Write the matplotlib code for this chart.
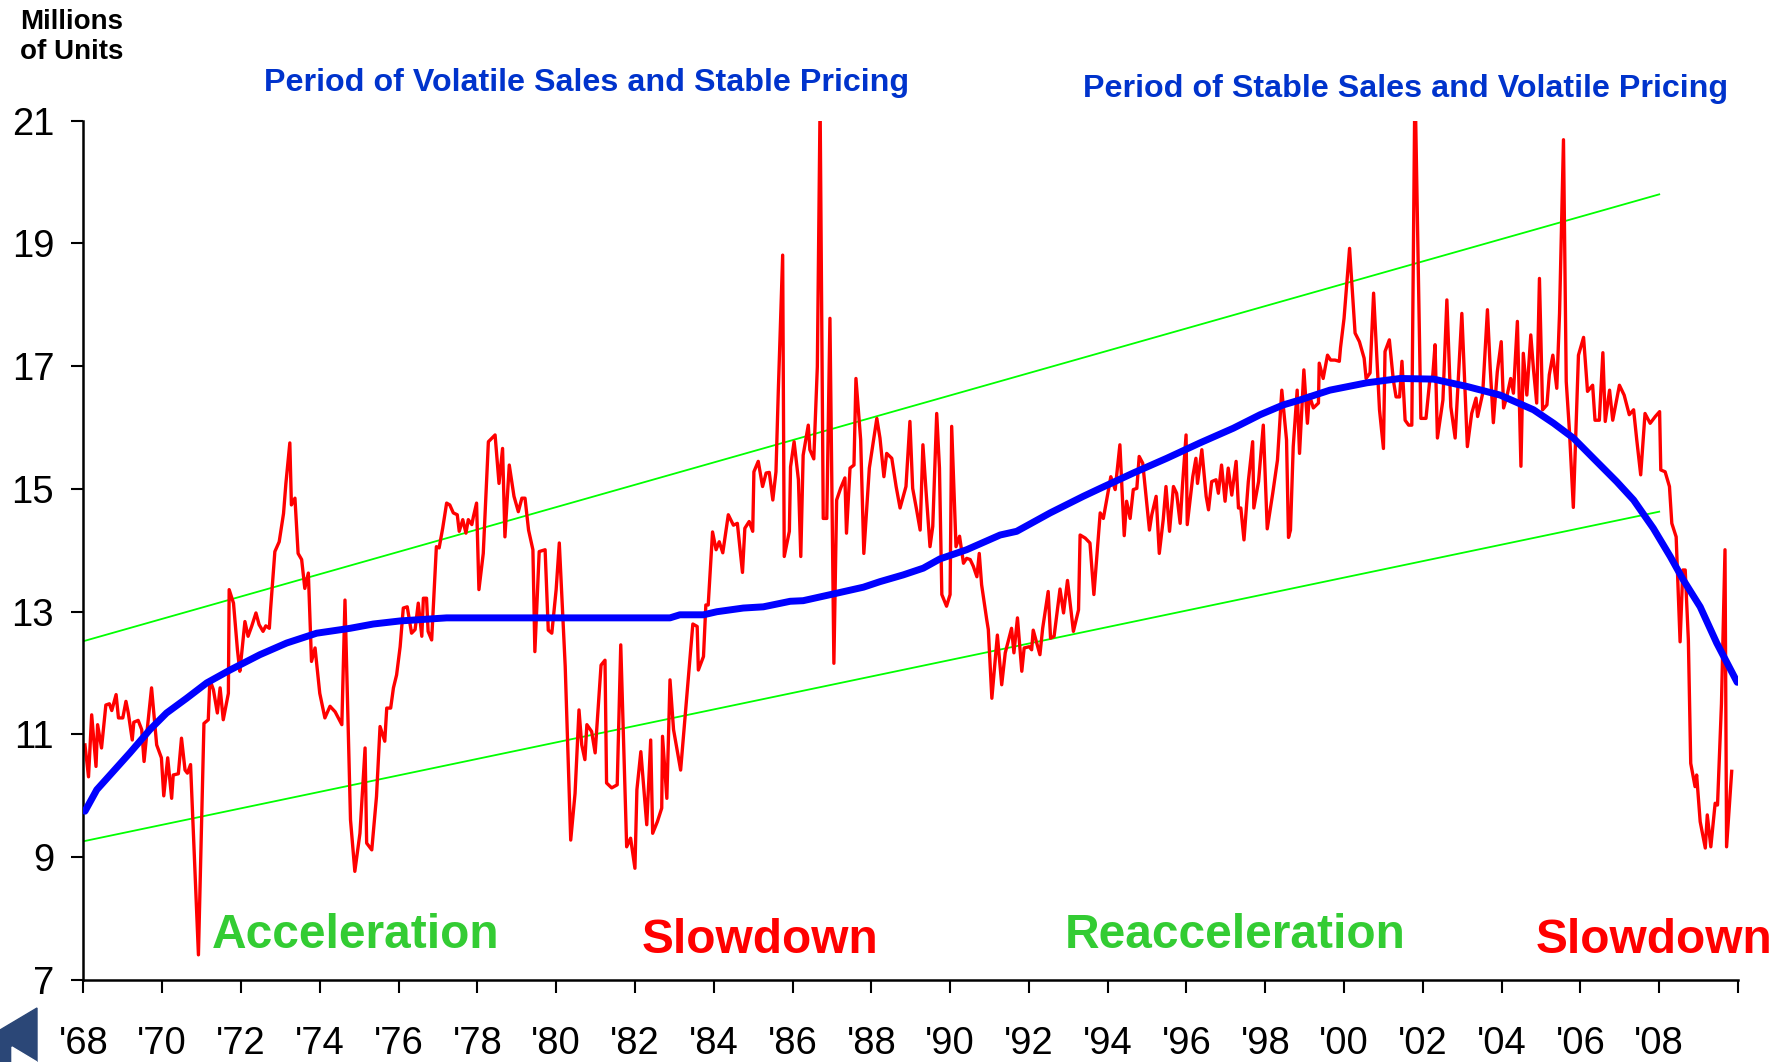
import numpy as np
import matplotlib
matplotlib.use("Agg")
import matplotlib.pyplot as plt
from matplotlib.patches import Polygon

plt.rcParams['font.family'] = ['Liberation Sans', 'DejaVu Sans']

# ventas mensuales (millones de unidades, tasa anualizada)
sales_year = [
    1968.04, 1968.13, 1968.21, 1968.32, 1968.36, 1968.46, 1968.57, 1968.66, 1968.72, 1968.83,
    1968.89, 1969.00, 1969.08, 1969.14, 1969.24, 1969.28, 1969.39, 1969.48, 1969.54, 1969.61,
    1969.73, 1969.86, 1969.98, 1970.04, 1970.14, 1970.24, 1970.28, 1970.41, 1970.49, 1970.58,
    1970.64, 1970.72, 1970.92, 1971.06, 1971.17, 1971.21, 1971.30, 1971.40, 1971.47, 1971.55,
    1971.68, 1971.70, 1971.81, 1971.91, 1971.97, 1972.01, 1972.10, 1972.18, 1972.27, 1972.38,
    1972.46, 1972.56, 1972.63, 1972.72, 1972.75, 1972.86, 1972.97, 1973.08, 1973.14, 1973.24,
    1973.28, 1973.37, 1973.45, 1973.54, 1973.62, 1973.71, 1973.79, 1973.88, 1974.00, 1974.13,
    1974.26, 1974.39, 1974.47, 1974.56, 1974.64, 1974.72, 1974.78, 1974.89, 1975.02, 1975.15,
    1975.19, 1975.32, 1975.44, 1975.53, 1975.65, 1975.70, 1975.80, 1975.87, 1975.95, 1976.04,
    1976.12, 1976.22, 1976.33, 1976.42, 1976.50, 1976.59, 1976.63, 1976.71, 1976.75, 1976.84,
    1976.96, 1977.03, 1977.12, 1977.22, 1977.30, 1977.39, 1977.49, 1977.54, 1977.63, 1977.71,
    1977.77, 1977.86, 1977.90, 1977.98, 1978.04, 1978.15, 1978.28, 1978.45, 1978.55, 1978.64,
    1978.70, 1978.81, 1978.93, 1979.04, 1979.13, 1979.21, 1979.30, 1979.41, 1979.46, 1979.57,
    1979.72, 1979.80, 1979.89, 1980.00, 1980.08, 1980.23, 1980.37, 1980.48, 1980.58, 1980.65,
    1980.73, 1980.78, 1980.90, 1980.99, 1981.14, 1981.24, 1981.28, 1981.41, 1981.55, 1981.64,
    1981.79, 1981.89, 1982.00, 1982.05, 1982.15, 1982.30, 1982.40, 1982.45, 1982.57, 1982.68,
    1982.70, 1982.81, 1982.89, 1982.98, 1983.16, 1983.33, 1983.47, 1983.58, 1983.61, 1983.74,
    1983.80, 1983.86, 1983.97, 1984.06, 1984.14, 1984.23, 1984.37, 1984.50, 1984.60, 1984.73,
    1984.79, 1984.90, 1984.99, 1985.02, 1985.13, 1985.24, 1985.33, 1985.41, 1985.50, 1985.58,
    1985.64, 1985.75, 1985.79, 1985.92, 1985.95, 1986.04, 1986.15, 1986.21, 1986.27, 1986.40,
    1986.44, 1986.54, 1986.63, 1986.70, 1986.78, 1986.87, 1986.95, 1987.05, 1987.12, 1987.22,
    1987.33, 1987.37, 1987.46, 1987.56, 1987.61, 1987.73, 1987.81, 1987.95, 1988.14, 1988.22,
    1988.32, 1988.39, 1988.52, 1988.63, 1988.73, 1988.88, 1988.98, 1989.05, 1989.15, 1989.24,
    1989.31, 1989.39, 1989.49, 1989.56, 1989.66, 1989.73, 1989.79, 1989.91, 1990.00, 1990.04,
    1990.15, 1990.24, 1990.34, 1990.42, 1990.51, 1990.59, 1990.68, 1990.74, 1990.80, 1990.93,
    1990.97, 1991.06, 1991.20, 1991.31, 1991.40, 1991.56, 1991.62, 1991.71, 1991.82, 1991.88,
    1992.01, 1992.07, 1992.11, 1992.28, 1992.35, 1992.49, 1992.55, 1992.64, 1992.79, 1992.88,
    1992.98, 1993.13, 1993.26, 1993.30, 1993.43, 1993.55, 1993.65, 1993.81, 1993.89, 1993.99,
    1994.08, 1994.19, 1994.31, 1994.42, 1994.48, 1994.57, 1994.65, 1994.74, 1994.80, 1994.89,
    1995.06, 1995.12, 1995.23, 1995.31, 1995.41, 1995.48, 1995.57, 1995.67, 1995.75, 1995.84,
    1995.90, 1995.99, 1996.02, 1996.16, 1996.24, 1996.28, 1996.39, 1996.50, 1996.56, 1996.64,
    1996.75, 1996.81, 1996.89, 1996.98, 1997.06, 1997.15, 1997.26, 1997.32, 1997.38, 1997.46,
    1997.57, 1997.68, 1997.71, 1997.83, 1997.95, 1998.05, 1998.19, 1998.31, 1998.42, 1998.54,
    1998.59, 1998.64, 1998.71, 1998.81, 1998.87, 1998.98, 1999.07, 1999.12, 1999.22, 1999.35,
    1999.37, 1999.47, 1999.58, 1999.66, 1999.77, 1999.88, 1999.91, 2000.00, 2000.14, 2000.28,
    2000.39, 2000.51, 2000.56, 2000.66, 2000.75, 2000.83, 2000.90, 2001.00, 2001.04, 2001.15,
    2001.25, 2001.32, 2001.41, 2001.47, 2001.55, 2001.64, 2001.72, 2001.80, 2001.95, 2002.08,
    2002.18, 2002.25, 2002.31, 2002.37, 2002.51, 2002.61, 2002.71, 2002.82, 2002.99, 2003.13,
    2003.24, 2003.35, 2003.39, 2003.52, 2003.64, 2003.71, 2003.79, 2003.89, 2003.99, 2004.05,
    2004.13, 2004.23, 2004.30, 2004.40, 2004.49, 2004.55, 2004.64, 2004.74, 2004.81, 2004.89,
    2004.96, 2005.04, 2005.15, 2005.21, 2005.30, 2005.40, 2005.47, 2005.57, 2005.64, 2005.72,
    2005.82, 2005.95, 2006.08, 2006.18, 2006.31, 2006.37, 2006.48, 2006.57, 2006.63, 2006.74,
    2006.82, 2006.99, 2007.11, 2007.24, 2007.35, 2007.43, 2007.53, 2007.64, 2007.77, 2007.90,
    2008.01, 2008.04, 2008.15, 2008.26, 2008.32, 2008.43, 2008.53, 2008.60, 2008.66, 2008.74,
    2008.80, 2008.91, 2008.95, 2009.04, 2009.17, 2009.22, 2009.31, 2009.42, 2009.48, 2009.58,
    2009.67, 2009.71, 2009.84,
]
sales_units = [
    10.83, 10.31, 11.32, 10.48, 11.16, 10.78, 11.48, 11.50, 11.39, 11.65,
    11.27, 11.27, 11.54, 11.35, 10.91, 11.20, 11.23, 11.08, 10.56, 11.02,
    11.76, 10.83, 10.62, 10.00, 10.62, 9.96, 10.34, 10.36, 10.94, 10.42,
    10.37, 10.51, 7.41, 11.18, 11.24, 11.89, 11.73, 11.35, 11.76, 11.24,
    11.67, 13.36, 13.14, 12.38, 12.03, 12.27, 12.84, 12.60, 12.76, 12.98,
    12.79, 12.68, 12.77, 12.73, 13.03, 13.98, 14.14, 14.60, 15.09, 15.75,
    14.74, 14.85, 13.95, 13.85, 13.38, 13.63, 12.19, 12.41, 11.67, 11.27,
    11.46, 11.37, 11.27, 11.16, 13.19, 11.13, 9.61, 8.77, 9.39, 10.78,
    9.23, 9.12, 9.99, 11.13, 10.89, 11.43, 11.43, 11.76, 11.97, 12.43,
    13.06, 13.08, 12.65, 12.71, 13.14, 12.60, 13.22, 13.22, 12.68, 12.54,
    14.06, 14.04, 14.36, 14.77, 14.74, 14.61, 14.58, 14.31, 14.50, 14.28,
    14.50, 14.42, 14.55, 14.77, 13.36, 13.95, 15.77, 15.88, 15.09, 15.66,
    14.22, 15.39, 14.88, 14.63, 14.85, 14.85, 14.33, 14.01, 12.35, 13.98,
    14.01, 12.70, 12.65, 13.36, 14.12, 12.11, 9.28, 10.04, 11.40, 10.83,
    10.59, 11.16, 11.05, 10.70, 12.13, 12.21, 10.21, 10.13, 10.18, 12.46,
    9.17, 9.31, 8.82, 10.10, 10.72, 9.53, 10.91, 9.39, 9.58, 9.80,
    10.97, 9.96, 11.89, 11.08, 10.42, 11.73, 12.80, 12.76, 12.05, 12.27,
    13.11, 13.11, 14.30, 14.01, 14.14, 13.96, 14.58, 14.41, 14.44, 13.64,
    14.36, 14.47, 14.31, 15.28, 15.45, 15.04, 15.26, 15.27, 14.82, 15.28,
    16.61, 18.81, 13.90, 14.31, 15.36, 15.77, 15.15, 13.90, 15.55, 16.04,
    15.64, 15.49, 16.99, 21.30, 14.52, 14.52, 17.78, 12.16, 14.82, 15.01,
    15.18, 14.28, 15.34, 15.39, 16.80, 15.80, 13.95, 15.34, 16.15, 15.83,
    15.20, 15.58, 15.50, 15.04, 14.69, 15.04, 16.10, 15.01, 14.66, 14.33,
    15.72, 14.96, 14.06, 14.39, 16.23, 15.34, 13.28, 13.09, 13.28, 16.02,
    14.06, 14.23, 13.79, 13.87, 13.85, 13.74, 13.57, 13.95, 13.44, 12.87,
    12.71, 11.59, 12.62, 11.81, 12.33, 12.73, 12.33, 12.90, 12.03, 12.41,
    12.43, 12.38, 12.70, 12.30, 12.73, 13.33, 12.57, 12.60, 13.37, 12.98,
    13.51, 12.68, 13.03, 14.25, 14.20, 14.12, 13.28, 14.61, 14.52, 14.88,
    15.20, 14.99, 15.72, 14.24, 14.80, 14.52, 14.99, 15.01, 15.53, 15.42,
    14.33, 14.58, 14.88, 13.95, 14.50, 15.04, 14.31, 15.04, 14.93, 14.44,
    15.07, 15.88, 14.42, 15.20, 15.50, 15.09, 15.64, 14.88, 14.66, 15.12,
    15.15, 14.93, 15.39, 14.80, 15.34, 14.90, 15.45, 14.69, 14.69, 14.17,
    15.12, 15.77, 14.69, 15.12, 16.04, 14.35, 14.93, 15.47, 16.61, 15.80,
    14.21, 14.33, 15.69, 16.61, 15.58, 16.94, 16.07, 16.53, 16.32, 16.40,
    17.05, 16.80, 17.18, 17.10, 17.10, 17.08, 17.30, 17.78, 18.92, 17.54,
    17.40, 17.13, 16.80, 16.89, 18.19, 17.18, 16.29, 15.66, 17.24, 17.43,
    16.78, 16.50, 16.50, 17.08, 16.12, 16.04, 16.04, 21.70, 16.15, 16.15,
    16.80, 16.83, 17.35, 15.83, 16.45, 18.08, 16.34, 15.83, 17.86, 15.69,
    16.23, 16.48, 16.18, 16.56, 17.92, 16.97, 16.08, 16.91, 17.40, 16.32,
    16.50, 16.80, 16.56, 17.73, 15.37, 17.21, 16.53, 17.51, 16.94, 16.40,
    18.43, 16.29, 16.37, 16.86, 17.18, 16.64, 17.86, 20.69, 16.75, 15.96,
    14.70, 17.18, 17.47, 16.59, 16.69, 16.12, 16.12, 17.22, 16.10, 16.61,
    16.12, 16.69, 16.53, 16.21, 16.29, 15.80, 15.23, 16.23, 16.07, 16.18,
    16.26, 15.31, 15.28, 15.04, 14.44, 14.22, 12.51, 13.68, 13.68, 12.54,
    10.53, 10.15, 10.34, 9.58, 9.15, 9.69, 9.17, 9.88, 9.85, 11.50,
    14.01, 9.17, 10.40,
]

# tendencia suavizada
trend_year = [
    1968.04, 1968.34, 1968.76, 1969.18, 1969.69, 1970.11, 1970.62, 1971.13, 1971.72, 1972.48,
    1973.16, 1973.92, 1974.77, 1975.36, 1976.04, 1977.22, 1982.89, 1983.14, 1983.74, 1984.08,
    1984.75, 1985.26, 1985.94, 1986.27, 1987.04, 1987.80, 1988.22, 1988.81, 1989.32, 1989.74,
    1990.42, 1991.27, 1991.69, 1992.54, 1993.38, 1993.81, 1994.65, 1995.50, 1996.34, 1997.19,
    1997.87, 1998.46, 1998.88, 1999.64, 2000.58, 2001.42, 2002.27, 2003.12, 2003.96, 2004.81,
    2005.32, 2005.82, 2006.33, 2006.92, 2007.35, 2007.85, 2008.28, 2008.61, 2009.04, 2009.46,
    2009.98,
]
trend_units = [
    9.75, 10.10, 10.40, 10.70, 11.08, 11.35, 11.59, 11.84, 12.05, 12.30,
    12.49, 12.65, 12.73, 12.80, 12.85, 12.90, 12.90, 12.95, 12.95, 13.00,
    13.06, 13.08, 13.17, 13.18, 13.29, 13.40, 13.49, 13.60, 13.71, 13.86,
    14.01, 14.25, 14.31, 14.61, 14.88, 15.01, 15.26, 15.50, 15.75, 15.99,
    16.21, 16.37, 16.45, 16.61, 16.73, 16.80, 16.79, 16.67, 16.53, 16.29,
    16.07, 15.83, 15.50, 15.12, 14.82, 14.36, 13.90, 13.52, 13.08, 12.49,
    11.85,
]

# canal de tendencia
channel_year = [1968.0, 2008.0]
channel_upper = [12.52, 19.80]
channel_lower = [9.26, 14.63]

tick_years = list(range(1968, 2011, 2))
tick_labels = ["'%02d" % (y % 100) for y in tick_years[:-1]] + [""]
y_ticks = [7, 9, 11, 13, 15, 17, 19, 21]

W, H = 1792, 1062
fig = plt.figure(figsize=(W / 100, H / 100), dpi=100)
ax = fig.add_axes([83.4 / W, 1 - 980 / H, (1738 - 83.4) / W, (980 - 120.7) / H])

ax.plot(channel_year, channel_upper, color='#00FF00', lw=1.3, zorder=1)
ax.plot(channel_year, channel_lower, color='#00FF00', lw=1.3, zorder=1)
ax.plot(sales_year, sales_units, color='#FF0000', lw=2.4, zorder=2)
ax.plot(trend_year, trend_units, color='#0000FF', lw=5, solid_capstyle='round', zorder=3)

ax.set_xlim(1968, 2010)
ax.set_ylim(7, 21)
ax.set_xticks(tick_years)
ax.set_xticklabels(tick_labels)
ax.set_yticks(y_ticks)
for s in ['top', 'right']:
    ax.spines[s].set_visible(False)
for s in ['left', 'bottom']:
    ax.spines[s].set_linewidth(1.8)
ax.tick_params(axis='both', direction='out', length=9, width=1.5, labelsize=27.5)
ax.tick_params(axis='y', pad=12)
ax.tick_params(axis='x', pad=24)

# textos
fig.text(72 / W, 1 - 29 / H, "Millions", ha='center', va='baseline', fontsize=20, fontweight='bold')
fig.text(72 / W, 1 - 59 / H, "of Units", ha='center', va='baseline', fontsize=20, fontweight='bold')
fig.text(587 / W, 1 - 91 / H, "Period of Volatile Sales and Stable Pricing", ha='center', va='baseline',
         fontsize=23.2, fontweight='bold', color='#0033CC')
fig.text(1406 / W, 1 - 97 / H, "Period of Stable Sales and Volatile Pricing", ha='center', va='baseline',
         fontsize=23.2, fontweight='bold', color='#0033CC')
fig.text(356 / W, 1 - 948 / H, "Acceleration", ha='center', va='baseline', fontsize=34.5,
         fontweight='bold', color='#33CC33')
fig.text(760 / W, 1 - 953 / H, "Slowdown", ha='center', va='baseline', fontsize=34.5,
         fontweight='bold', color='#FF0000')
fig.text(1235 / W, 1 - 948 / H, "Reacceleration", ha='center', va='baseline', fontsize=34.5,
         fontweight='bold', color='#33CC33')
fig.text(1654 / W, 1 - 953 / H, "Slowdown", ha='center', va='baseline', fontsize=34.5,
         fontweight='bold', color='#FF0000')

# logo en la esquina
logo = Polygon([(0, 1 - 1030 / H), (37 / W, 1 - 1008 / H), (37 / W, 0), (0, 0)],
               closed=True, transform=fig.transFigure, color='#2b4777')
fig.patches.append(logo)
cut = Polygon([(12 / W, 1 - 1047 / H), (37 / W, 0), (12 / W, 0)],
              closed=True, transform=fig.transFigure, color='white')
fig.patches.append(cut)

fig.savefig("out.png", dpi=100)
